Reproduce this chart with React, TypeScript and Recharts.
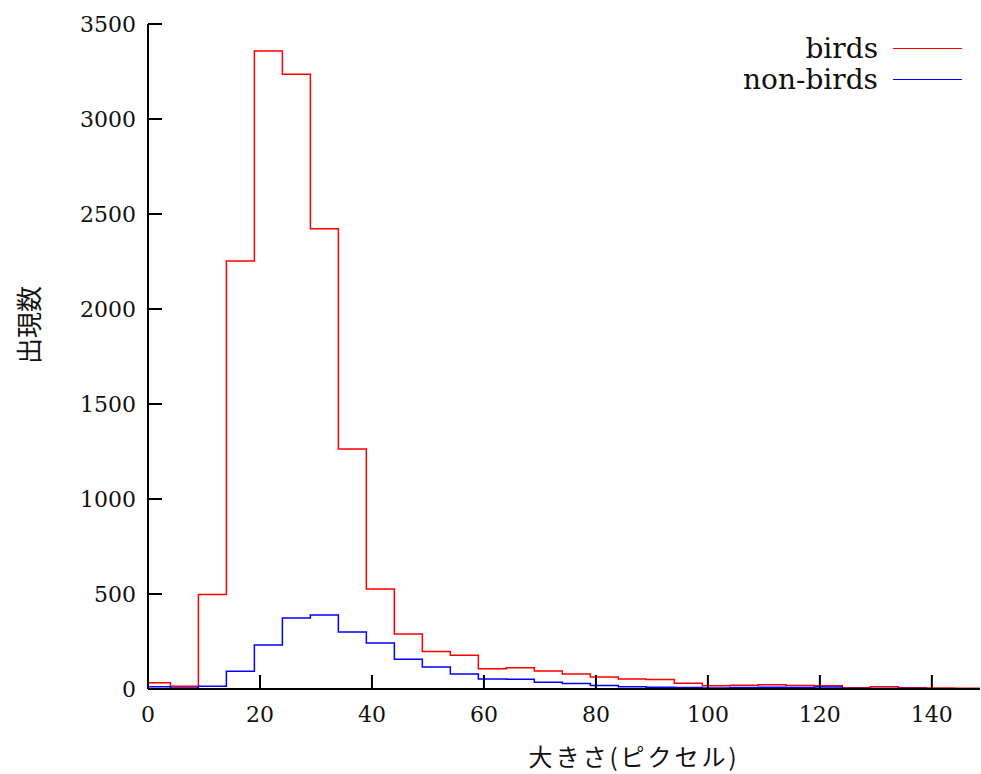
import { Legend, Line, LineChart, XAxis, YAxis } from "recharts"

// left edge of each 5-pixel bin (last entry closes the final bin)
const sizes = [0, 4, 9, 14, 19, 24, 29, 34, 39, 44, 49, 54, 59, 64, 69, 74, 79, 84, 89, 94, 99, 104, 109, 114, 119, 124, 129, 134, 139, 144, 149]

const birds = [33, 14, 497, 2252, 3358, 3235, 2423, 1263, 526, 289, 197, 177, 107, 112, 95, 79, 63, 52, 50, 30, 17, 20, 22, 19, 17, 6, 12, 7, 5, 4, 4]

const nonBirds = [12, 5, 15, 93, 231, 374, 389, 300, 242, 156, 116, 79, 53, 51, 35, 29, 19, 12, 9, 8, 5, 8, 9, 8, 10, 3, 2, 2, 1, 1, 1]

const xTicks = [0, 20, 40, 60, 80, 100, 120, 140]
const yTicks = [0, 500, 1000, 1500, 2000, 2500, 3000, 3500]

const data = sizes.map((size, i) => ({ size, birds: birds[i], nonBirds: nonBirds[i] }))

const serif = "DejaVu Serif"
const tickStyle = { fontFamily: serif, fontSize: 22, fill: "#111" }
const axisLine = { stroke: "#000", strokeWidth: 2 }
const tickLine = { stroke: "#000", strokeWidth: 2 }

function LegendBox({ payload }: any) {
  return (
    <div>
      {(payload || []).map((p: any) => (
        <div
          key={p.value}
          style={{ display: "flex", alignItems: "center", justifyContent: "flex-end", height: 31 }}
        >
          <span style={{ fontFamily: serif, fontSize: 28, color: "#111", lineHeight: "31px" }}>{p.value}</span>
          <span style={{ display: "inline-block", width: 69, height: 1.5, background: p.color, marginLeft: 15 }} />
        </div>
      ))}
    </div>
  )
}

export default function App() {
  return (
    <div style={{ position: "absolute", left: 0, top: 0, width: 981, height: 774, background: "#fff" }}>
      <LineChart width={981} height={774} data={data} margin={{ top: 24, right: 1, bottom: 0, left: 0 }}>
        <XAxis
          dataKey="size"
          type="number"
          domain={[0, 148.6]}
          allowDataOverflow
          ticks={xTicks}
          interval={0}
          height={85}
          tickSize={-14}
          tickMargin={31}
          tick={tickStyle}
          axisLine={axisLine}
          tickLine={tickLine}
        />
        <XAxis
          xAxisId="top"
          orientation="top"
          dataKey="size"
          type="number"
          domain={[0, 148.6]}
          allowDataOverflow
          ticks={xTicks}
          interval={0}
          height={0}
          tickSize={-14}
          tickFormatter={() => ""}
          axisLine={axisLine}
          tickLine={tickLine}
        />
        <YAxis
          type="number"
          domain={[0, 3500]}
          ticks={yTicks}
          interval={0}
          width={148}
          tickSize={-14}
          tickMargin={26}
          tick={tickStyle}
          axisLine={axisLine}
          tickLine={tickLine}
        />
        <YAxis
          yAxisId="right"
          orientation="right"
          type="number"
          domain={[0, 3500]}
          ticks={yTicks}
          interval={0}
          width={0}
          tickSize={-14}
          tickFormatter={() => ""}
          axisLine={axisLine}
          tickLine={tickLine}
        />
        <Legend
          layout="vertical"
          align="center"
          verticalAlign="middle"
          content={LegendBox}
          wrapperStyle={{ top: 33, right: 19, left: "auto", width: "auto", height: "auto" }}
        />
        <Line
          type="stepAfter"
          dataKey="birds"
          name="birds"
          stroke="#ff0000"
          strokeWidth={1.5}
          dot={false}
          activeDot={false}
          isAnimationActive={false}
        />
        <Line
          type="stepAfter"
          dataKey="nonBirds"
          name="non-birds"
          stroke="#0000ff"
          strokeWidth={1.5}
          dot={false}
          activeDot={false}
          isAnimationActive={false}
        />
      </LineChart>
      <div
        style={{
          position: "absolute",
          left: 28,
          top: 325,
          transform: "translate(-50%, -50%) rotate(-90deg)",
          fontFamily: "Noto Sans CJK JP",
          fontSize: 26,
          lineHeight: 1,
          color: "#111",
          whiteSpace: "nowrap",
        }}
      >
        出現数
      </div>
      <div
        style={{
          position: "absolute",
          left: 634,
          top: 756,
          transform: "translate(-50%, -50%)",
          fontFamily: "Noto Sans CJK JP",
          fontSize: 24,
          letterSpacing: 3,
          lineHeight: 1,
          color: "#111",
          whiteSpace: "nowrap",
        }}
      >
        大きさ(ピクセル)
      </div>
    </div>
  )
}
